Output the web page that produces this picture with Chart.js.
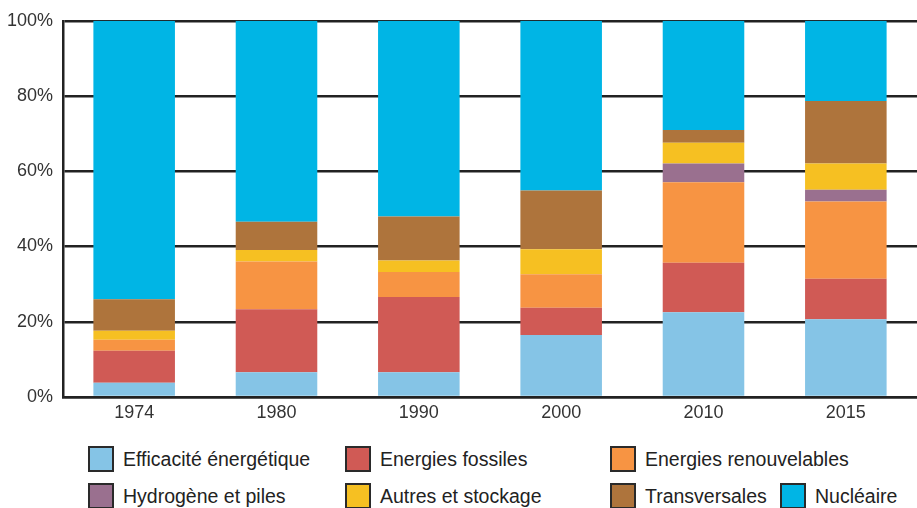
<!DOCTYPE html>
<html>
<head>
<meta charset="utf-8">
<script src="https://cdn.jsdelivr.net/npm/chart.js@4/dist/chart.umd.min.js"></script>
<style>
  html, body { margin: 0; padding: 0; background: #fff; }
  #wrap { position: relative; width: 917px; height: 508px; overflow: hidden; }
  #chartBox { position: absolute; left: 0; top: 0; width: 917px; height: 432px; }
  .lg { position: absolute; display: flex; align-items: center; font-family: "Liberation Sans", Arial, sans-serif; font-size: 19.5px; color: #222; white-space: nowrap; }
  .lg .sw { width: 22px; height: 22px; border: 2px solid #2a2a2a; margin-right: 9px; box-sizing: content-box; }
</style>
</head>
<body>
<div id="wrap">
  <div id="chartBox"><canvas id="c"></canvas></div>
  <div id="legend"></div>
</div>
<script>
const categories = ["1974", "1980", "1990", "2000", "2010", "2015"];
const seriesNames = ["Efficacité énergétique", "Energies fossiles", "Energies renouvelables", "Hydrogène et piles", "Autres et stockage", "Transversales", "Nucléaire"];
const efficacite   = [3.8, 6.6, 6.6, 16.5, 22.5, 20.7];
const fossiles     = [8.5, 16.7, 20.0, 7.2, 13.2, 10.7];
const renouvelables= [2.9, 12.7, 6.6, 8.9, 21.4, 20.6];
const hydrogene    = [0, 0, 0, 0, 5.0, 3.1];
const autres       = [2.4, 3.1, 3.1, 6.7, 5.5, 7.0];
const transversales= [8.4, 7.5, 11.7, 15.6, 3.4, 16.6];
const nucleaire    = [74.0, 53.4, 52.0, 45.1, 29.0, 21.3];
const yTicks = [0, 20, 40, 60, 80, 100];

const seriesValues = [efficacite, fossiles, renouvelables, hydrogene, autres, transversales, nucleaire];
const colors = ["#85C4E6", "#D05A55", "#F79443", "#9A708F", "#F6C022", "#AE743C", "#00B5E5"];

const tickFont = { family: "'Liberation Sans', Arial, sans-serif", size: 18 };

new Chart(document.getElementById('c'), {
  type: 'bar',
  data: {
    labels: categories,
    datasets: seriesNames.map((n, i) => ({
      label: n,
      data: seriesValues[i],
      backgroundColor: colors[i],
      borderWidth: 0,
      barPercentage: 0.573,
      categoryPercentage: 1.0
    }))
  },
  options: {
    responsive: true,
    maintainAspectRatio: false,
    animation: false,
    layout: { padding: { top: 11, right: 0, left: 0, bottom: 0 } },
    plugins: { legend: { display: false }, tooltip: { enabled: false } },
    scales: {
      x: {
        stacked: true,
        grid: { display: false, drawTicks: false },
        border: { display: true, color: '#222', width: 2.5 },
        ticks: { color: '#333', font: tickFont, padding: 5 },
        afterFit: (s) => { s.height = 35; }
      },
      y: {
        stacked: true,
        min: 0, max: 100,
        afterBuildTicks: (s) => { s.ticks = yTicks.map(v => ({ value: v })); },
        grid: { color: '#222', lineWidth: 2.5, drawTicks: false },
        border: { display: true, color: '#222', width: 2.5 },
        ticks: { color: '#333', font: tickFont, padding: 10, callback: (v) => v + '%' },
        afterFit: (s) => { s.width = 63; }
      }
    }
  }
});

// HTML legend built from series arrays
const legendPos = [[88, 446], [345, 446], [610, 446], [88, 483], [345, 483], [610, 483], [780, 483]];
const lg = document.getElementById('legend');
seriesNames.forEach((n, i) => {
  const d = document.createElement('div');
  d.className = 'lg';
  d.style.left = legendPos[i][0] + 'px';
  d.style.top = legendPos[i][1] + 'px';
  d.innerHTML = '<span class="sw" style="background:' + colors[i] + '"></span><span>' + n + '</span>';
  lg.appendChild(d);
});
</script>
</body>
</html>
